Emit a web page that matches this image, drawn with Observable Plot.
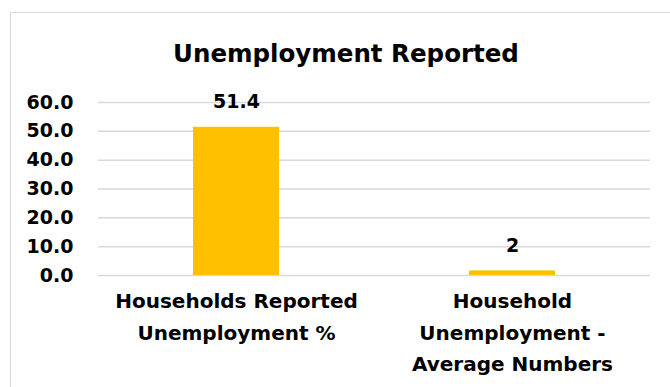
<!DOCTYPE html>
<html>
<head>
<meta charset="utf-8">
<script src="https://cdn.jsdelivr.net/npm/d3@7"></script>
<script src="https://cdn.jsdelivr.net/npm/@observablehq/plot@0.6"></script>
<style>
  html, body { margin: 0; padding: 0; background: #fff; overflow: hidden; }
  #wrap { position: relative; width: 670px; height: 387px; overflow: hidden; font-family: "DejaVu Sans", sans-serif; }
  #frame { position: absolute; left: 10px; top: 12px; width: 720px; height: 420px; border: 1.5px solid #d9d9d9; box-sizing: border-box; }
  #title { position: absolute; left: 11px; top: 0; width: 670px; height: 90px; text-align: center; font-weight: bold; font-size: 24.5px; line-height: 108px; color: #000; }
  #chart { position: absolute; left: 0; top: 90px; }
</style>
</head>
<body>
<div id="wrap">
  <div id="frame"></div>
  <div id="title">Unemployment Reported</div>
  <div id="chart"></div>
</div>
<script>
const categories = ["Households Reported Unemployment %", "Household Unemployment - Average Numbers"];
const categoryLabels = ["Households Reported\nUnemployment %", "Household\nUnemployment -\nAverage Numbers"];
const values = [51.4, 1.6];
const valueLabels = ["51.4", "2"];
const yTicks = [0, 10, 20, 30, 40, 50, 60];

const data = categories.map((c, i) => ({cat: c, value: values[i], label: valueLabels[i]}));

const chart = Plot.plot({
  width: 670,
  height: 297,
  marginTop: 12,
  marginBottom: 112,
  marginLeft: 98,
  marginRight: 20,
  style: {fontFamily: "DejaVu Sans, sans-serif", fontWeight: "bold", color: "#000", background: "transparent"},
  x: {domain: categories, paddingInner: 0.688, paddingOuter: 0.344},
  y: {domain: [0, 60]},
  marks: [
    Plot.gridY(yTicks, {stroke: "#d9d9d9", strokeOpacity: 1, strokeWidth: 1.5}),
    Plot.axisY(yTicks, {tickSize: 0, tickPadding: 25, fontSize: 19, fontWeight: "bold", tickFormat: d => d.toFixed(1), label: null}),
    Plot.axisX({tickSize: 0, tickPadding: 10, fontSize: 20, fontWeight: "bold", lineHeight: 1.58, tickFormat: d => categoryLabels[categories.indexOf(d)], label: null}),
    Plot.barY(data, {x: "cat", y: "value", fill: "#FFC000"}),
    Plot.text(data, {x: "cat", y: "value", text: "label", dy: -25, fontSize: 19, fontWeight: "bold", fill: "#000"})
  ]
});
document.getElementById("chart").appendChild(chart);
</script>
</body>
</html>
